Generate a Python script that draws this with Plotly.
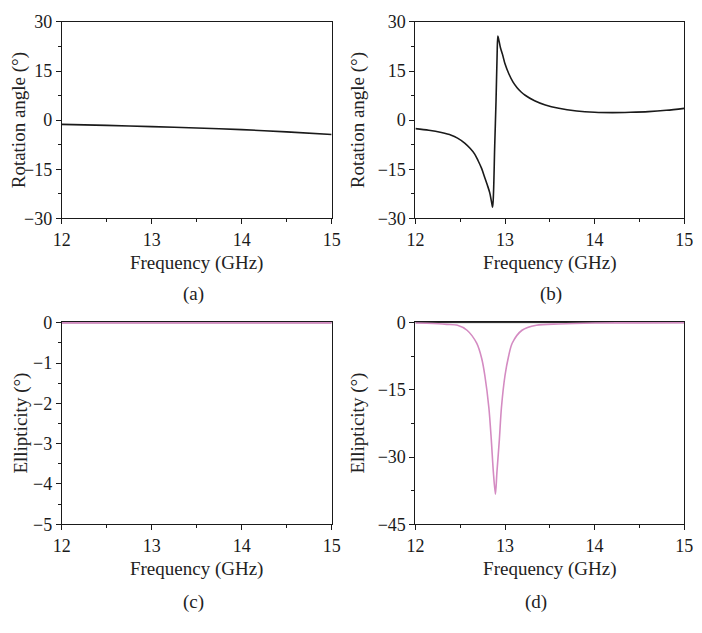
import plotly.graph_objects as go

# ---------------- data ----------------
freq_a = [12.0, 12.5, 13.0, 13.5, 14.0, 14.5, 15.0]
rot_a = [-1.3, -1.6, -2.0, -2.4, -2.9, -3.6, -4.4]

freq_b = [12.0, 12.15, 12.29, 12.4, 12.47, 12.55, 12.61, 12.66, 12.70, 12.74, 12.77,
          12.80, 12.83, 12.85, 12.862, 12.872, 12.885, 12.9, 12.912, 12.92, 12.93,
          12.95, 12.973, 13.0, 13.045, 13.09, 13.135, 13.18, 13.225, 13.33, 13.45,
          13.6, 13.8, 14.0, 14.2, 14.4, 14.6, 14.8, 15.0]
rot_b = [-2.6, -3.1, -3.8, -4.6, -5.5, -7.0, -8.6, -10.3, -12.4, -14.8, -17.2,
         -19.6, -22.2, -25.0, -26.6, -22.0, -8.0, 6.0, 20.0, 25.7, 24.6,
         22.0, 20.0, 17.2, 14.0, 11.6, 9.9, 8.6, 7.6, 5.9, 4.6,
         3.6, 2.8, 2.4, 2.3, 2.4, 2.6, 3.0, 3.6]

freq_c = [12.0, 13.0, 13.1, 14.0, 14.6, 15.0]
ell_c_black = [0.0, 0.0, 0.0, 0.0, 0.0, 0.0]
ell_c_pink = [0.0, 0.0, 0.0, 0.0, 0.0, 0.0]

freq_d = [12.0, 12.2, 12.35, 12.47, 12.576, 12.684, 12.74, 12.775, 12.82, 12.847,
          12.87, 12.893, 12.91, 12.937, 12.96, 13.0, 13.04, 13.08, 13.19, 13.35,
          13.6, 14.0, 14.5, 15.0]
ell_d_pink = [-0.1, -0.2, -0.4, -0.6, -1.7, -4.6, -8.0, -11.8, -19.0, -26.1,
              -33.3, -38.3, -33.3, -26.1, -19.0, -11.8, -7.5, -4.6, -1.7, -0.6,
              -0.3, -0.1, -0.05, 0.0]
freq_d_black = [12.0, 13.5, 15.0]
ell_d_black = [0.0, 0.0, 0.0]

x_ticks = [12, 13, 14, 15]
y_ticks_rot = [-30, -15, 0, 15, 30]
y_ticks_c = [-5, -4, -3, -2, -1, 0]
y_ticks_d = [-45, -30, -15, 0]

x_title = "Frequency (GHz)"
panel_labels = ["(a)", "(b)", "(c)", "(d)"]

# ---------------- styling ----------------
FONT = "Liberation Serif"
BLACK = "#1a1a1a"
PINK = "#d48bc2"
PAGE_W, PAGE_H = 702, 633
OFF = 8  # the page's default body margin shifts the figure by 8 px
W, H = PAGE_W - OFF, PAGE_H - OFF
TICK_SIZE = 18
TITLE_SIZE = 19

def px_x(v):
    return (v - OFF) / W

def px_y(v):
    return 1 - (v - OFF) / H

dom_x_left = [px_x(54), px_x(331)]
dom_x_right = [px_x(417), px_x(693)]
dom_y_top = [px_y(215), px_y(12)]
dom_y_bot = [px_y(531), px_y(322)]

fig = go.Figure()

def line(x, y, xa, ya, color, width=1.6, shape="linear", smoothing=0.8):
    fig.add_trace(go.Scatter(x=x, y=y, mode="lines", xaxis=xa, yaxis=ya,
                             line=dict(color=color, width=width, shape=shape,
                                       smoothing=smoothing),
                             showlegend=False, hoverinfo="skip"))

line(freq_a, rot_a, "x", "y", BLACK, shape="spline")
line(freq_b, rot_b, "x2", "y2", BLACK, shape="spline", smoothing=0.9)
line(freq_c, ell_c_black, "x3", "y3", BLACK, width=1.0)
line(freq_c, ell_c_pink, "x3", "y3", PINK, width=1.8)
line(freq_d_black, ell_d_black, "x4", "y4", BLACK, width=1.0)
line(freq_d, ell_d_pink, "x4", "y4", PINK, shape="spline")

def xaxis(domain, anchor):
    return dict(domain=domain, anchor=anchor, range=[12, 15], tickvals=x_ticks,
                ticks="outside", ticklen=5, tickwidth=1, tickcolor=BLACK,
                minor=dict(dtick=0.5, tick0=12, ticks="outside", ticklen=3,
                           tickcolor=BLACK, tickwidth=1),
                showline=True, linecolor=BLACK, linewidth=1, mirror=True,
                showgrid=False, zeroline=False, ticklabeloverflow="allow",
                tickfont=dict(family=FONT, size=TICK_SIZE, color=BLACK),
                title=dict(text=x_title, standoff=6,
                           font=dict(family=FONT, size=TITLE_SIZE, color="#222")),
                layer="below traces", fixedrange=True)

def yaxis(domain, anchor, rng, ticks, minor_dt, title, standoff):
    return dict(domain=domain, anchor=anchor, range=rng, tickvals=ticks,
                ticktext=[str(t).replace("-", "\u2212") for t in ticks],
                ticks="outside", ticklen=5, tickwidth=1, tickcolor=BLACK,
                minor=dict(dtick=minor_dt, tick0=0, ticks="outside", ticklen=3,
                           tickcolor=BLACK, tickwidth=1),
                showline=True, linecolor=BLACK, linewidth=1, mirror=True,
                showgrid=False, zeroline=False, ticklabeloverflow="allow",
                tickfont=dict(family=FONT, size=TICK_SIZE, color=BLACK),
                title=dict(text=title, standoff=standoff,
                           font=dict(family=FONT, size=TITLE_SIZE, color="#222")),
                layer="below traces", fixedrange=True)

fig.update_layout(
    width=W, height=H,
    margin=dict(l=0, r=0, t=0, b=0),
    paper_bgcolor="white", plot_bgcolor="white",
    xaxis=xaxis(dom_x_left, "y"),
    yaxis=yaxis(dom_y_top, "x", [-30, 30], y_ticks_rot, 7.5, "Rotation angle (°)", 0),
    xaxis2=xaxis(dom_x_right, "y2"),
    yaxis2=yaxis(dom_y_top, "x2", [-30, 30], y_ticks_rot, 7.5, "Rotation angle (°)", 7),
    xaxis3=xaxis(dom_x_left, "y3"),
    yaxis3=yaxis(dom_y_bot, "x3", [-5, 0.02], y_ticks_c, 0.5, "Ellipticity (°)", 0),
    xaxis4=xaxis(dom_x_right, "y4"),
    yaxis4=yaxis(dom_y_bot, "x4", [-45, 0.15], y_ticks_d, 7.5, "Ellipticity (°)", 7),
)

label_pos = [(189, 293), (556, 293), (189, 611), (541, 611)]
for lab, (lx, ly) in zip(panel_labels, label_pos):
    fig.add_annotation(text=lab, x=px_x(lx), y=px_y(ly), xref="paper", yref="paper",
                       showarrow=False, xanchor="center", yanchor="middle",
                       font=dict(family=FONT, size=TITLE_SIZE, color="#222"))

fig.write_html("out.html")
